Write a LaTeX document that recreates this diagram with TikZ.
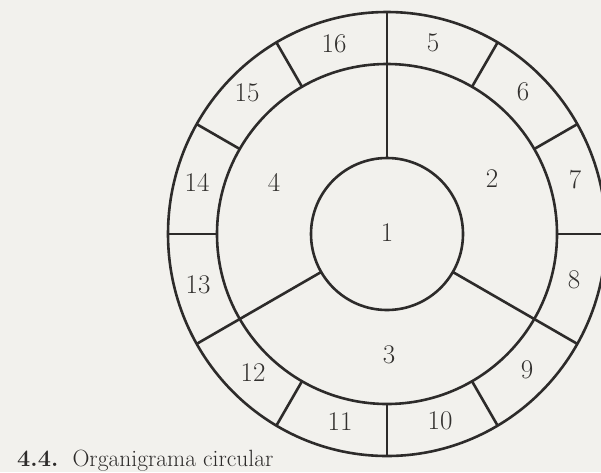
\documentclass[tikz,border=0pt]{standalone}
\usetikzlibrary{shapes.geometric}
\definecolor{paper}{RGB}{242,241,237}
\definecolor{ink}{RGB}{45,43,42}
\definecolor{txt}{RGB}{50,48,46}
\tikzset{
  ring/.style={draw=ink, line width=2.6pt, inner sep=0pt, outer sep=0pt},
  divider/.style={draw=ink, line width=2.6pt},
  lbl/.style={text=txt, font=\fontsize{27}{27}\selectfont, inner sep=0pt},
  captionstyle/.style={text=ink, font=\fontsize{23.5}{25}\selectfont, inner sep=0pt, anchor=base west},
}
\begin{document}
\begin{tikzpicture}[x=1pt,y=-1pt]
\useasboundingbox (0,0) rectangle (601,472);
\fill[paper] (0,0) rectangle (601,472);
\clip (0,0) rectangle (601,472);
\coordinate (C) at (387,234);
\node[ring, ellipse, minimum width=438pt, minimum height=444pt] (outer) at (C) {};
\node[ring, circle, minimum size=340pt] (middle) at (C) {};
\node[ring, circle, minimum size=152pt] (inner) at (C) {};
\foreach \a in {90,210,330} \draw[divider] (inner.\a) -- (outer.\a);
\foreach \a in {0,30,60,120,150,180,240,270,300} \draw[divider] (middle.\a) -- (outer.\a);
\node[lbl] (l1) at (387,233) {1};
\node[lbl] (l2) at (492,179) {2};
\node[lbl] (l3) at (389,355) {3};
\node[lbl] (l4) at (274,182) {4};
\node[lbl] (l5) at (433,43) {5};
\node[lbl] (l6) at (523,92) {6};
\node[lbl] (l7) at (575,180) {7};
\node[lbl] (l8) at (574,280) {8};
\node[lbl] (l9) at (527,370) {9};
\node[lbl] (l10) at (440,421) {10};
\node[lbl] (l11) at (340,422) {11};
\node[lbl] (l12) at (253,373) {12};
\node[lbl] (l13) at (198,285) {13};
\node[lbl] (l14) at (197,182) {14};
\node[lbl] (l15) at (247,93) {15};
\node[lbl] (l16) at (334,44) {16};
\node[captionstyle] (cap) at (17,466.5) {\textbf{4.4.}\ \ Organigrama circular};
\end{tikzpicture}
\end{document}
